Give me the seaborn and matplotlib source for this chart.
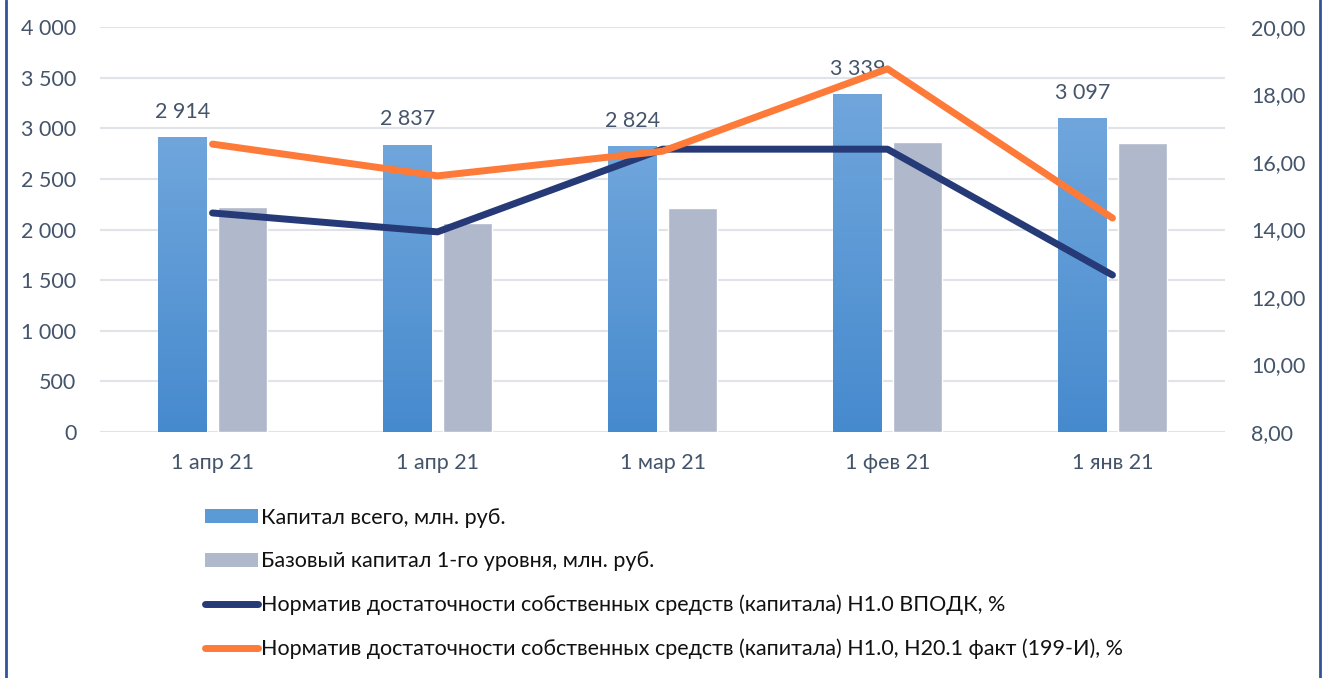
import numpy as np
import pandas as pd
import matplotlib
matplotlib.use("Agg")
import matplotlib.pyplot as plt
import seaborn as sns
from matplotlib.patches import Patch
from matplotlib.lines import Line2D
from matplotlib.colors import LinearSegmentedColormap

# ==========================================================
# DATA
# ==========================================================

dates = ["1 апр 21", "1 апр 21", "1 мар 21", "1 фев 21", "1 янв 21"]
capital_total = [2914, 2837, 2824, 3339, 3097]
capital_base = [2222, 2064, 2212, 2864, 2854]
n1_vpodk = [14.49, 13.93, 16.38, 16.38, 12.65]
n1_n20 = [16.53, 15.59, 16.32, 18.76, 14.34]

labels = [
    "Капитал всего, млн. руб.",
    "Базовый капитал 1-го уровня, млн. руб.",
    "Норматив достаточности собственных средств (капитала) Н1.0 ВПОДК, %",
    "Норматив достаточности собственных средств (капитала) Н1.0, Н20.1 факт (199-И), %",
]

# ==========================================================
# STYLE
# ==========================================================

sns.set_theme(style="white")
plt.rcParams["font.family"] = ["Lato", "DejaVu Sans"]

BLUE_TOP = "#70a6dc"
BLUE_BOT = "#468ace"
BLUE_MID = "#5b9bd5"
GREY = "#b0b8cc"
NAVY = "#253a77"
ORANGE = "#fe7a38"
TXT = "#44546a"
GRID = "#e0e3e8"
FS = 15.5

pos = list(range(len(dates)))

df = pd.DataFrame({
    "pos": pos * 2,
    "value": capital_total + capital_base,
    "series": [labels[0]] * len(pos) + [labels[1]] * len(pos),
})

fig = plt.figure(figsize=(13.25, 6.78), dpi=100)
ax = fig.add_axes([0.0755, 0.3628, 0.849, 0.5974])

sns.barplot(
    data=df, x="pos", y="value", hue="series",
    palette=[BLUE_MID, GREY], width=0.53, gap=0.18,
    saturation=1, legend=False, ax=ax, zorder=2
)

ax.set_xlim(-0.5, 4.5)
ax.set_ylim(0, 4000)

# gradient fill for the total capital bars
cmap = LinearSegmentedColormap.from_list("g", [BLUE_BOT, BLUE_TOP])
grad = np.linspace(0, 1, 256).reshape(-1, 1)
bars_total = ax.patches[:len(pos)]
for p, val in zip(bars_total, capital_total):
    x0, w = p.get_x(), p.get_width()
    im = ax.imshow(grad, cmap=cmap, origin="lower", aspect="auto",
                   extent=[x0, x0 + w, 0, val], zorder=2.5)
    im.set_clip_path(p)
    ax.annotate(f"{val:,}".replace(",", " "), (x0 + w / 2, val),
                xytext=(0, 11), textcoords="offset points",
                ha="center", va="bottom", fontsize=FS, color=TXT, zorder=5)

ax.set_xlim(-0.5, 4.5)
ax.set_ylim(0, 4000)
ax.set_yticks(np.arange(0, 4001, 500))
ax.set_yticklabels([f"{v:,}".replace(",", " ") for v in range(0, 4001, 500)])
ax.set_xticks(pos)
ax.set_xticklabels(dates)
ax.grid(axis="y", color=GRID, linewidth=1.5, zorder=0)
ax.set_axisbelow(True)
ax.set_xlabel("")
ax.set_ylabel("")
for s in ax.spines.values():
    s.set_visible(False)
ax.tick_params(axis="both", length=0, labelsize=FS, colors=TXT)
ax.tick_params(axis="y", pad=17)
ax.tick_params(axis="x", pad=15)

# ==========================================================
# SECONDARY AXIS - LINES
# ==========================================================

ax2 = ax.twinx()
sns.lineplot(x=pos, y=n1_vpodk, color=NAVY, linewidth=5,
             solid_capstyle="round", ax=ax2, zorder=4)
sns.lineplot(x=pos, y=n1_n20, color=ORANGE, linewidth=5,
             solid_capstyle="round", ax=ax2, zorder=4)
ax2.set_xlim(-0.5, 4.5)
ax2.set_ylim(8, 20)
ax2.set_yticks(np.arange(8, 21, 2))
ax2.set_yticklabels([f"{v:.2f}".replace(".", ",") for v in range(8, 21, 2)])
ax2.grid(False)
for s in ax2.spines.values():
    s.set_visible(False)
ax2.tick_params(axis="y", length=0, labelsize=FS, colors=TXT, pad=19)

# ==========================================================
# LEGEND
# ==========================================================

handles = [
    Patch(facecolor=BLUE_MID, edgecolor="none"),
    Patch(facecolor=GREY, edgecolor="none"),
    Line2D([], [], color=NAVY, linewidth=5, solid_capstyle="round"),
    Line2D([], [], color=ORANGE, linewidth=5, solid_capstyle="round"),
]
leg = fig.legend(
    handles, labels, loc="upper left", bbox_to_anchor=(0.155, 0.251),
    frameon=False, fontsize=FS, handlelength=2.45, handleheight=0.65,
    handletextpad=0.15, labelspacing=1.09, borderaxespad=0,
    borderpad=0
)
for t in leg.get_texts():
    t.set_color("#111111")

# frame lines on the sides
fig.add_artist(Line2D([0.0047, 0.0047], [0, 1], color="#2f5597",
                      linewidth=2, transform=fig.transFigure))
fig.add_artist(Line2D([0.9963, 0.9963], [0, 1], color="#2f5597",
                      linewidth=2, transform=fig.transFigure))

fig.savefig("out.png", dpi=100)
